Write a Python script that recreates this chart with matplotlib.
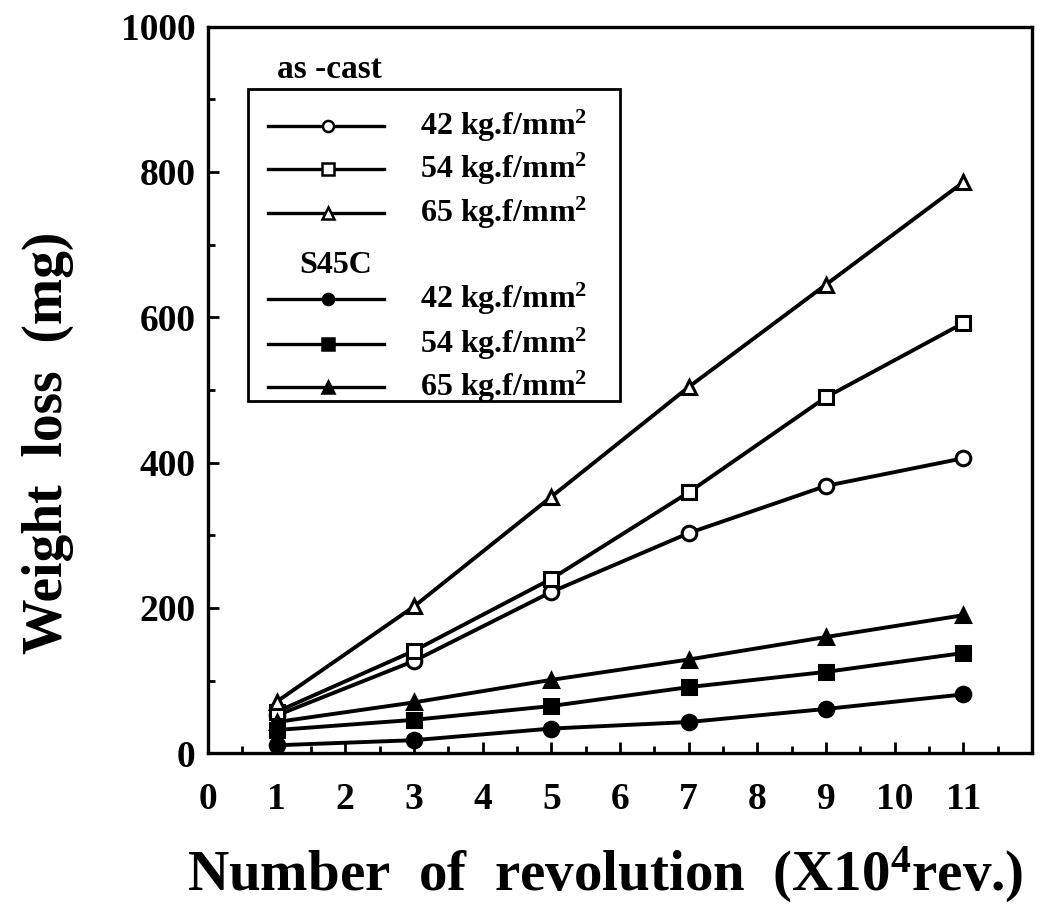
"""
Weight loss vs number of revolutions, as-cast vs S45C at three loads
"""

import matplotlib
matplotlib.use('Agg')
import matplotlib.pyplot as plt
from matplotlib.lines import Line2D
from matplotlib.patches import Rectangle

plt.rcParams['font.family'] = ['Liberation Serif', 'DejaVu Serif']
plt.rcParams['font.weight'] = 'bold'
plt.rcParams['axes.labelweight'] = 'bold'
plt.rcParams['mathtext.fontset'] = 'custom'
plt.rcParams['mathtext.rm'] = 'Liberation Serif:bold'
plt.rcParams['mathtext.bf'] = 'Liberation Serif:bold'
plt.rcParams['mathtext.it'] = 'Liberation Serif:bold'

# revolutions (x10^4 rev.)
revolutions = [1, 3, 5, 7, 9, 11]

# weight loss (mg)
cast_42 = [52, 127, 222, 303, 368, 406]
cast_54 = [57, 141, 240, 359, 490, 592]
cast_65 = [71, 202, 353, 504, 645, 786]
s45c_42 = [11, 18, 34, 43, 61, 81]
s45c_54 = [32, 46, 65, 91, 112, 138]
s45c_65 = [43, 70, 101, 129, 160, 190]

loads = ['42', '54', '65']
x_ticks = list(range(0, 12))
y_ticks = [0, 200, 400, 600, 800, 1000]

fig = plt.figure(figsize=(10.44, 9.07), dpi=100)
ax = fig.add_axes([0.1992, 0.1695, 0.7893, 0.8011])

lw = 2.8
ms = 10.5
styles = [
    (cast_42, 'o', 'white'),
    (cast_54, 's', 'white'),
    (cast_65, '^', 'white'),
    (s45c_42, 'o', 'black'),
    (s45c_54, 's', 'black'),
    (s45c_65, '^', 'black'),
]
for vals, mk, face in styles:
    ax.plot(revolutions, vals, color='black', linewidth=lw, marker=mk,
            markersize=ms, markerfacecolor=face, markeredgecolor='black',
            markeredgewidth=2.2, zorder=3)

ax.set_xlim(0, 12)
ax.set_ylim(0, 1000)
ax.set_xticks(x_ticks)
ax.set_xticks([t + 0.5 for t in x_ticks], minor=True)
ax.set_yticks(y_ticks)
ax.set_yticks([100, 300, 500, 700, 900], minor=True)
ax.tick_params(which='both', direction='in', width=2, labelsize=27)
ax.tick_params(which='major', length=8)
ax.tick_params(which='minor', length=5)
ax.tick_params(axis='x', pad=21)
ax.tick_params(axis='y', pad=9)
for sp in ax.spines.values():
    sp.set_linewidth(2.4)

ax.set_xlabel('Number  of  revolution  (X10$^{4}$rev.)', fontsize=41,
              fontweight='bold')
ax.xaxis.set_label_coords(0.4818, -0.126)
ax.set_ylabel('Weight  loss  (mg)', fontsize=40, fontweight='bold')
ax.yaxis.set_label_coords(-0.163, 0.4277)

# hand-drawn legend box like the original
tr = ax.transAxes
ax.add_patch(Rectangle((0.0485, 0.4843), 0.4515, 0.4294, transform=tr,
                       fill=False, linewidth=2, edgecolor='black', zorder=4))
ax.text(0.0837, 0.930, 'as -cast', transform=tr, fontsize=24,
        ha='left', va='baseline')
ax.text(0.111, 0.661, 'S45C', transform=tr, fontsize=23,
        ha='left', va='baseline')

row_y = [0.8509, 0.7913, 0.7308, 0.6124, 0.5505, 0.4913]
for (vals, mk, face), yb, load in zip(styles, row_y, loads * 2):
    yc = yb + 0.0125
    ax.add_line(Line2D([0.0728, 0.2136], [yc, yc], transform=tr,
                       color='black', linewidth=2.4, zorder=5))
    ax.add_line(Line2D([0.1456], [yc], transform=tr, marker=mk,
                       markersize=8, markerfacecolor=face,
                       markeredgecolor='black', markeredgewidth=1.8,
                       linestyle='none', zorder=6))
    ax.text(0.2573, yb, load + ' kg.f/mm$^{2}$', transform=tr,
            fontsize=23, ha='left', va='baseline')

fig.savefig('out.png', dpi=100)
